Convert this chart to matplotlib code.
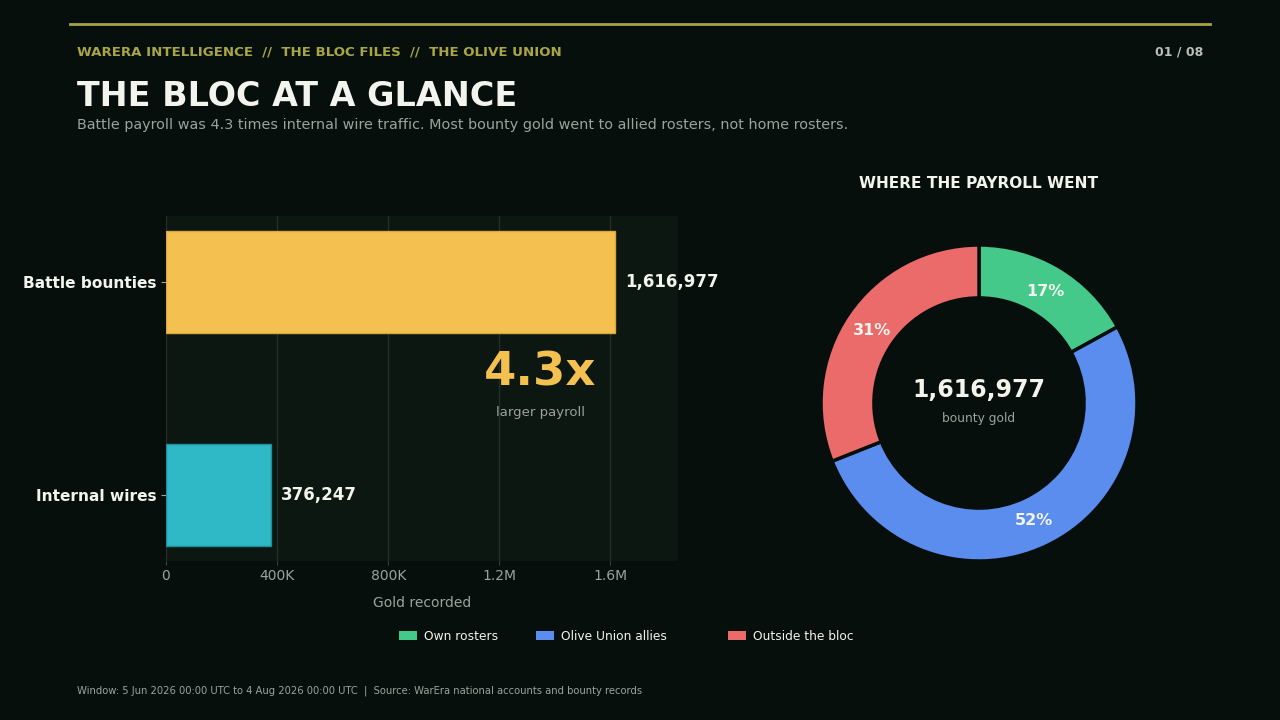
import numpy as np
import matplotlib.pyplot as plt
from matplotlib.lines import Line2D
from matplotlib.ticker import FuncFormatter

# --- Data ---
bar_labels = ['Battle bounties', 'Internal wires']
bar_values = [1616977, 376247]
bar_colors = ['#f4c150', '#2fb8c6']

share_labels = ['Own rosters', 'Olive Union allies', 'Outside the bloc']
share_values = [17, 52, 31]
share_colors = ['#45c98b', '#5b8def', '#eb6a6a']

ratio = bar_values[0] / bar_values[1]

# --- Style ---
bg = '#060f0b'
panel = '#0c1712'
olive = '#a9a444'
white = '#f4f4ee'
grey = '#9aa39d'

plt.rcParams['font.family'] = ['DejaVu Sans']

fig = plt.figure(figsize=(12.8, 7.2), dpi=100, facecolor=bg)

# header
fig.add_artist(Line2D([70 / 1280, 1210 / 1280], [1 - 24 / 720] * 2,
                      color=olive, lw=2, transform=fig.transFigure))
fig.text(77 / 1280, 1 - 52 / 720, 'WARERA INTELLIGENCE  //  THE BLOC FILES  //  THE OLIVE UNION',
         color=olive, fontsize=9.6, fontweight='bold', va='center')
fig.text(1203 / 1280, 1 - 52 / 720, '01 / 08', color='#b8beb9', fontsize=9,
         fontweight='bold', va='center', ha='right')
fig.text(77 / 1280, 1 - 97 / 720, 'THE BLOC AT A GLANCE', color=white, fontsize=24,
         fontweight='bold', va='center')
fig.text(77 / 1280, 1 - 125 / 720,
         'Battle payroll was 4.3 times internal wire traffic. Most bounty gold went to allied rosters, not home rosters.',
         color=grey, fontsize=10.4, va='center')

# --- Bar chart ---
ax = fig.add_axes([166 / 1280, 1 - 561 / 720, 512 / 1280, 345 / 720])
ax.set_facecolor(panel)
y = np.arange(len(bar_values))
ax.barh(y, bar_values, height=0.48, color=bar_colors,
        edgecolor=['#d9a83e', '#1f8e99'], linewidth=1, zorder=3)
ax.set_ylim(1.31, -0.31)
ax.set_xlim(0, 1843000)
ax.set_yticks(y)
ax.set_yticklabels(bar_labels, color=white, fontsize=11.1, fontweight='bold')
ax.set_xticks([0, 400000, 800000, 1200000, 1600000])
ax.xaxis.set_major_formatter(FuncFormatter(
    lambda v, p: '0' if v == 0 else (f'{v / 1e6:.1f}M' if v >= 1e6 else f'{v / 1e3:.0f}K')))
ax.tick_params(axis='x', colors=grey, labelsize=10, length=3, pad=2.5, color='#3a443e')
ax.tick_params(axis='y', colors=white, length=3.5, pad=3, color='#9aa39d')
for lab in ax.get_xticklabels():
    lab.set_color(grey)
ax.set_xlabel('Gold recorded', color=grey, fontsize=10, labelpad=9.5)
ax.grid(axis='x', color='#26302a', lw=0.9, zorder=0)
for s in ax.spines.values():
    s.set_visible(False)
for yi, v in zip(y, bar_values):
    ax.text(v + 36000, yi, f'{v:,}', color=white, fontsize=12, fontweight='bold',
            va='center', ha='left')
ax.text(0.731, 0.545, f'{ratio:.1f}x', transform=ax.transAxes, color=bar_colors[0],
        fontsize=33.5, fontweight='bold', ha='center', va='center')
ax.text(0.731, 0.43, 'larger payroll', transform=ax.transAxes, color=grey,
        fontsize=9.5, ha='center', va='center')

# --- Donut ---
ax2 = fig.add_axes([(979 - 158) / 1280, (720 - 403 - 158) / 720, 316 / 1280, 316 / 720])
wedges, texts, autotexts = ax2.pie(
    share_values, colors=share_colors, startangle=90, counterclock=False,
    radius=1, autopct='%d%%', pctdistance=0.82,
    wedgeprops=dict(width=0.335, edgecolor=bg, linewidth=2.5),
    textprops=dict(color=white, fontsize=11.5, fontweight='bold'))
for w in wedges:
    w.set_clip_on(False)
ax2.set_xlim(-1.0, 1.0)
ax2.set_ylim(-1.0, 1.0)
ax2.set_aspect('equal')
ax2.text(0, 0.08, f'{bar_values[0]:,}', color=white, fontsize=17, fontweight='bold',
         ha='center', va='center')
ax2.text(0, -0.095, 'bounty gold', color=grey, fontsize=8.8, ha='center', va='center')
fig.text(979 / 1280, 1 - 184 / 720, 'WHERE THE PAYROLL WENT', color=white, fontsize=11.1,
         fontweight='bold', ha='center', va='center')

# legend entries, placed one by one
legend_x = [399, 536, 728]
for w, lab, lx in zip(wedges, share_labels, legend_x):
    leg = fig.legend([w], [lab], loc='center left', bbox_to_anchor=(lx / 1280, 1 - 636 / 720),
                     frameon=False, fontsize=8.8, handlelength=1.47, handleheight=0.7,
                     handletextpad=0.57, borderpad=0, borderaxespad=0)
    for t in leg.get_texts():
        t.set_color(white)
    for h in leg.legend_handles:
        h.set_edgecolor('none')

fig.text(77 / 1280, 1 - 691 / 720,
         'Window: 5 Jun 2026 00:00 UTC to 4 Aug 2026 00:00 UTC  |  Source: WarEra national accounts and bounty records',
         color=grey, fontsize=7.2, va='center')

fig.savefig('out.png', dpi=100, facecolor=bg)
